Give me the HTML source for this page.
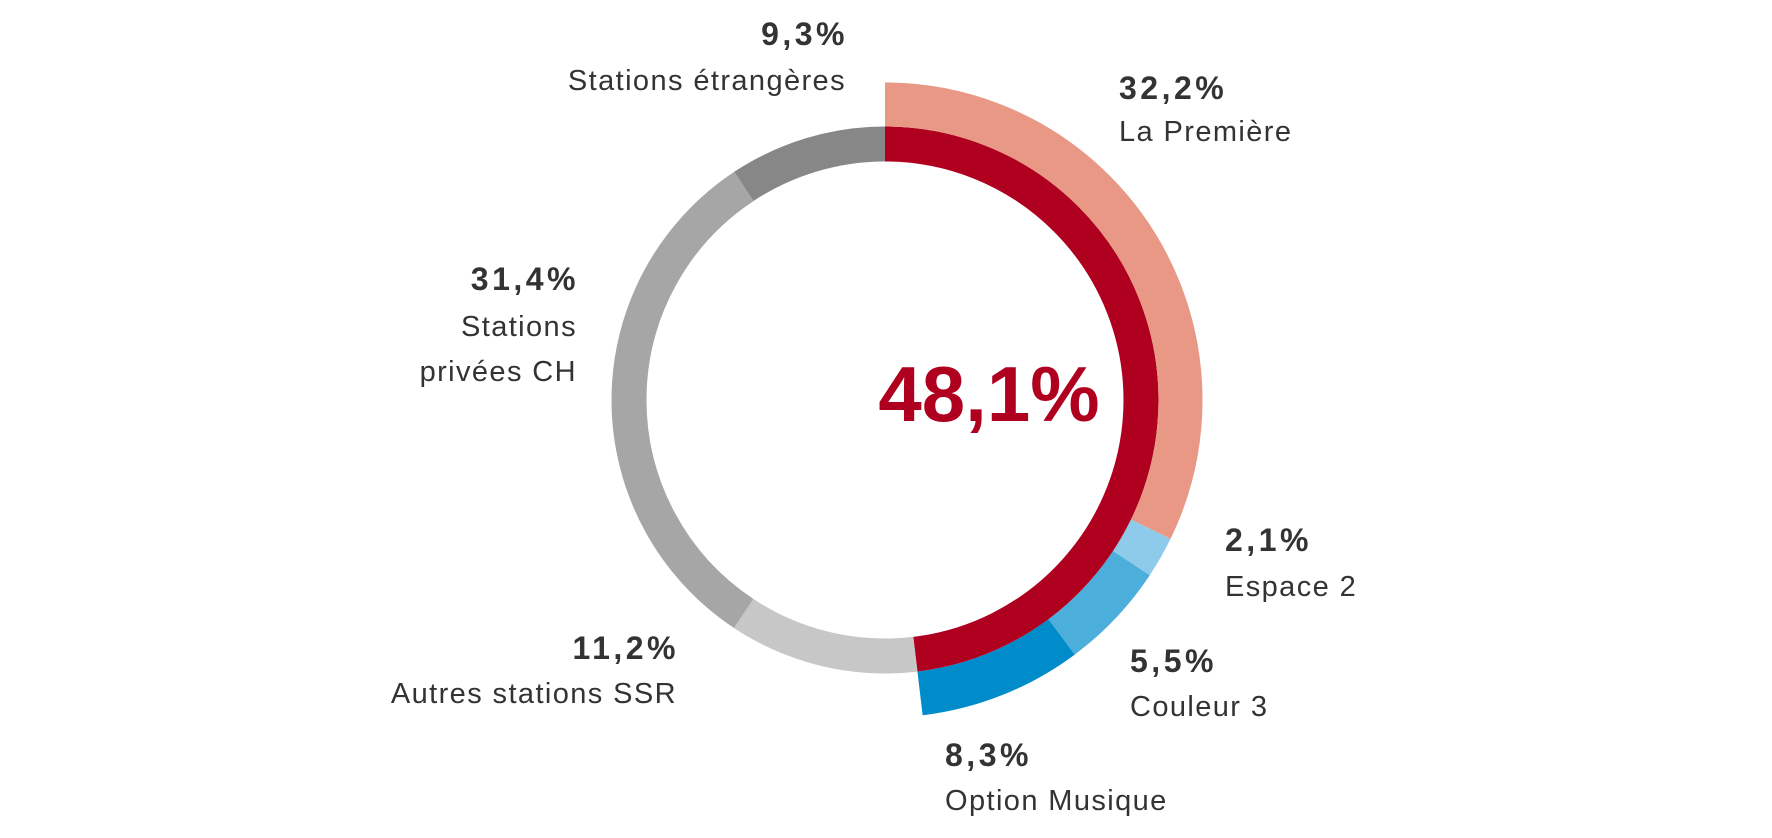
<!DOCTYPE html>
<html><head><meta charset="utf-8"><style>
html,body{margin:0;padding:0;background:#fff}
svg{display:block}
text{font-family:"Liberation Sans",sans-serif;fill:#333}
.b{font-weight:bold;font-size:32px;letter-spacing:3.5px}
.n{font-size:29px;letter-spacing:1.4px}
</style></head><body>
<svg width="1772" height="838" viewBox="0 0 1772 838">
<g transform="translate(885,400) rotate(-90)" fill="none">
<circle r="256" stroke="#b0001f" stroke-width="35" stroke-dasharray="773.7 5000" stroke-dashoffset="0"/>
<circle r="256" stroke="#c6c7c6" stroke-width="35" stroke-dasharray="180.2 5000" stroke-dashoffset="-773.7"/>
<circle r="256" stroke="#a6a6a6" stroke-width="35" stroke-dasharray="505.1 5000" stroke-dashoffset="-953.9"/>
<circle r="256" stroke="#878787" stroke-width="35" stroke-dasharray="149.6 5000" stroke-dashoffset="-1458.9"/>
<circle r="295.5" stroke="#e89885" stroke-width="44" stroke-dasharray="597.9 5000" stroke-dashoffset="0"/>
<circle r="295.5" stroke="#8ecbea" stroke-width="44" stroke-dasharray="39 5000" stroke-dashoffset="-597.9"/>
<circle r="295.5" stroke="#4baedb" stroke-width="44" stroke-dasharray="102.1 5000" stroke-dashoffset="-636.9"/>
<circle r="295.5" stroke="#008bcb" stroke-width="44" stroke-dasharray="154.1 5000" stroke-dashoffset="-739"/>
</g>
<text x="989" y="421" text-anchor="middle" font-weight="bold" font-size="78" style="fill:#b0001f">48,1%</text>
<g text-anchor="end">
<text class="b" x="848" y="45">9,3%</text>
<text class="n" x="846" y="90">Stations étrangères</text>
<text class="b" x="579" y="290">31,4%</text>
<text class="n" x="577" y="336">Stations</text>
<text class="n" x="577" y="381">privées CH</text>
<text class="b" x="679" y="659">11,2%</text>
<text class="n" x="677" y="703">Autres stations SSR</text>
</g>
<text class="b" x="1119" y="99">32,2%</text>
<text class="n" x="1119" y="141">La Première</text>
<text class="b" x="1225" y="551">2,1%</text>
<text class="n" x="1225" y="596">Espace 2</text>
<text class="b" x="1130" y="672">5,5%</text>
<text class="n" x="1130" y="716">Couleur 3</text>
<text class="b" x="945" y="766">8,3%</text>
<text class="n" x="945" y="810">Option Musique</text>
</svg>
</body></html>
